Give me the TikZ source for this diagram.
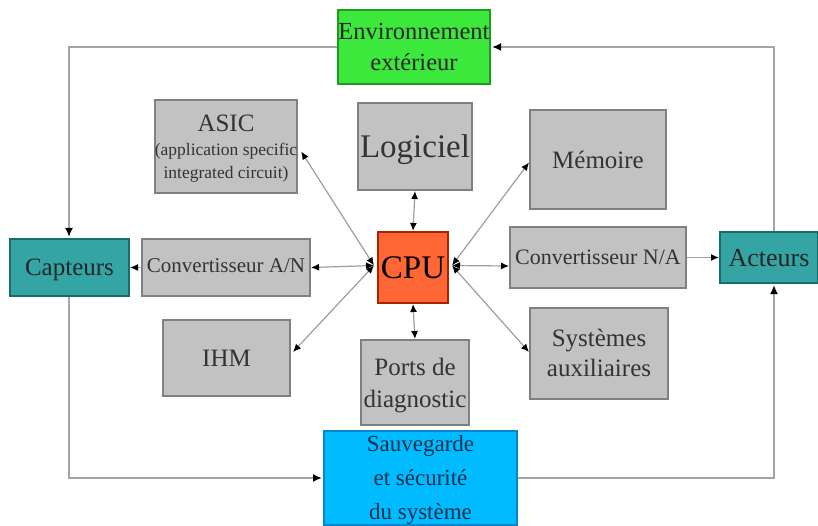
\documentclass[tikz,border=0pt]{standalone}
\usepackage{fontspec}
\setmainfont{Liberation Serif}
\usetikzlibrary{arrows.meta}

\definecolor{boxgray}{HTML}{C2C2C2}
\definecolor{boxedge}{HTML}{808080}
\definecolor{envfill}{HTML}{3CE83C}
\definecolor{envedge}{HTML}{1E9A1E}
\definecolor{tealfill}{HTML}{34A4A4}
\definecolor{tealedge}{HTML}{1B6B6B}
\definecolor{cpufill}{HTML}{FF6633}
\definecolor{cpuedge}{HTML}{A82400}
\definecolor{bluefill}{HTML}{00BBFF}
\definecolor{blueedge}{HTML}{0A86C8}
\definecolor{busline}{HTML}{A4A4A4}
\definecolor{linkline}{HTML}{9E9E9E}
\definecolor{graytext}{HTML}{333333}
\definecolor{navytext}{HTML}{06304A}

\tikzset{
  block/.style={draw, line width=2pt, inner sep=0pt, align=center, text depth=0pt},
  graybox/.style={block, fill=boxgray, draw=boxedge, text=graytext},
  envbox/.style={block, fill=envfill, draw=envedge, text=black!85},
  tealbox/.style={block, fill=tealfill, draw=tealedge, text=black!85},
  cpubox/.style={block, fill=cpufill, draw=cpuedge, text=black},
  bluebox/.style={block, fill=bluefill, draw=blueedge, text=navytext},
  bus/.style={draw=busline, line width=2.6pt, -{Latex[length=9pt,width=8pt,color=black]}, shorten >=1pt},
  link/.style={draw=linkline, line width=1.2pt, {Latex[length=8pt,width=7pt,color=black]}-{Latex[length=8pt,width=7pt,color=black]}},
  oneway/.style={draw=linkline, line width=1.2pt, -{Latex[length=8pt,width=7pt,color=black]}}
}

\begin{document}
\begin{tikzpicture}[x=1pt,y=-1pt]
\useasboundingbox[fill=white] (0,0) rectangle (818,526);

% blocks
\node[envbox, minimum width=152pt, minimum height=74pt, font=\fontsize{24.5}{31}\selectfont]
  (env) at (414,47) {Environnement\\extérieur};
\node[graybox, minimum width=142pt, minimum height=93pt, font=\fontsize{17.5}{23}\selectfont]
  (asic) at (226,146.5) {\fontsize{25}{26}\selectfont ASIC\\[1pt](application specific\\integrated circuit)};
\node[graybox, minimum width=114pt, minimum height=87pt, font=\fontsize{33}{35}\selectfont]
  (logiciel) at (415,146.5) {Logiciel};
\node[graybox, minimum width=136pt, minimum height=99pt, font=\fontsize{25}{27}\selectfont]
  (memoire) at (598,159.5) {Mémoire};
\node[tealbox, minimum width=119pt, minimum height=57pt, font=\fontsize{25}{27}\selectfont]
  (capteurs) at (69.5,267.5) {Capteurs};
\node[graybox, minimum width=168pt, minimum height=57pt, font=\fontsize{21}{23}\selectfont]
  (convAN) at (226,267.5) {\raisebox{3pt}{Convertisseur A/N}};
\node[cpubox, minimum width=70pt, minimum height=71pt, font=\fontsize{33}{35}\selectfont]
  (cpu) at (413,267.5) {CPU};
\node[graybox, minimum width=176pt, minimum height=61pt, font=\fontsize{22}{24}\selectfont]
  (convNA) at (598,257.5) {Convertisseur N/A};
\node[tealbox, minimum width=98pt, minimum height=51pt, font=\fontsize{26}{28}\selectfont]
  (acteurs) at (769,257.5) {Acteurs};
\node[graybox, minimum width=127pt, minimum height=76pt, font=\fontsize{25}{27}\selectfont]
  (ihm) at (226.5,358) {IHM};
\node[graybox, minimum width=108pt, minimum height=85pt, font=\fontsize{25}{32}\selectfont]
  (ports) at (415,382.5) {Ports de\\diagnostic};
\node[graybox, minimum width=138pt, minimum height=91pt, font=\fontsize{25}{30}\selectfont]
  (sys) at (599,353) {Systèmes\\auxiliaires};
\node[bluebox, minimum width=193pt, minimum height=94pt, font=\fontsize{23}{34}\selectfont]
  (sauv) at (420.5,478) {Sauvegarde\\et sécurité\\du système};

% corner points of the outer loop
\coordinate (tl) at (69,47);
\coordinate (tr) at (774,47);
\coordinate (bl) at (69,478);
\coordinate (br) at (774,478);

% outer loop
\draw[bus] (env.west |- tl) -- (tl) -- (capteurs.north -| tl);
\draw[bus] (acteurs.north -| tr) -- (tr) -- (env.east |- tr);
\draw[bus] (capteurs.south -| bl) -- (bl) -- (sauv.west |- bl);
\draw[bus] (sauv.east |- br) -- (br) -- (acteurs.south -| br);

% CPU links (shifts are in page units: positive yshift moves up)
\coordinate (cpuL) at ([xshift=-3pt,yshift=2pt]cpu.west);
\coordinate (cpuR) at ([xshift=3pt,yshift=2pt]cpu.east);
\draw[link] (cpuL) -- ([xshift=3pt,yshift=-5pt]asic.east);
\draw[link] (cpuL) -- (convAN.east);
\draw[link] (cpuL) -- ([xshift=2pt,yshift=6pt]ihm.east);
\draw[link] (cpuR) -- ([yshift=-3pt]memoire.west);
\draw[link] (cpuR) -- ([yshift=-8.5pt]convNA.west);
\draw[link] (cpuR) -- ([yshift=1pt]sys.west);
\draw[link] (cpu.north) -- (logiciel.south);
\draw[link] (cpu.south) -- (ports.north);
\draw[oneway] (convNA.east) -- (convNA.east -| acteurs.west);
\draw[oneway] (convAN.west) -- (capteurs.east);
\end{tikzpicture}
\end{document}
